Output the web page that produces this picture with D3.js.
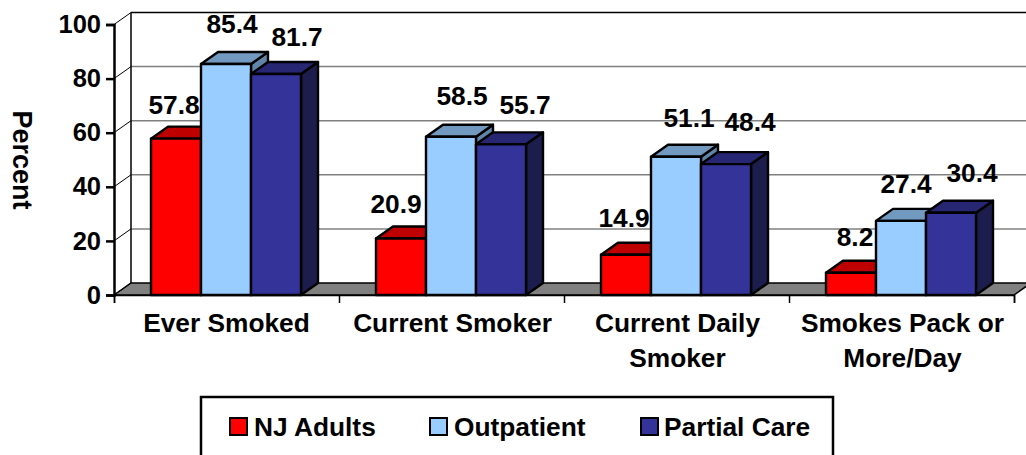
<!DOCTYPE html>
<html><head><meta charset="utf-8"><style>
html,body{margin:0;padding:0;background:#fff;overflow:hidden}
text{font-family:"Liberation Sans",Arial,sans-serif;font-weight:bold;fill:#000}
</style><script src="https://cdn.jsdelivr.net/npm/d3@7"></script></head><body>
<svg id="c" width="1026" height="455"></svg>
<script>
const categories=[["Ever Smoked"],["Current Smoker"],["Current Daily","Smoker"],["Smokes Pack or","More/Day"]];
const series=["NJ Adults","Outpatient","Partial Care"];
const njAdults=[57.8,20.9,14.9,8.2];
const outpatient=[85.4,58.5,51.1,27.4];
const partialCare=[81.7,55.7,48.4,30.4];
const yTicks=[0,20,40,60,80,100];
const values=[njAdults,outpatient,partialCare];

const front=["#FF0000","#99CCFF","#333399"],top_=["#BF0000","#7299BF","#262673"],side=["#8C0000","#6185A8","#1C1C4D"];
const DX=17,DY=-12,BW=50,GAP=37,FS=26.3;
// hand placement of the data labels relative to the bar's centre and top
const labelDx=[[-2,-5,-2,4],[6,11,13,5],[21,24,24,21]];
const labelDy=[[-25,-25,-28,-27],[-31,-32,-30,-28],[-28,-30,-33,-31]];
const svg=d3.select("#c");
const y=d3.scaleLinear().domain([0,100]).range([295,24.5]);
const x=d3.scaleBand().domain(d3.range(categories.length)).range([114,1014]);
const line=(g,a,b,c,d,col,w)=>g.append("line").attr("x1",a).attr("y1",b).attr("x2",c).attr("y2",d).attr("stroke",col).attr("stroke-width",w);

const bg=svg.append("g");
bg.append("polygon").attr("points",[[114,y(0)],[114+DX,y(0)+DY],[1014+DX,y(0)+DY],[1014,y(0)]].join(" ")).attr("fill","#808080").attr("stroke","#000").attr("stroke-width",1.5);
yTicks.forEach(t=>{
  if(t>0) line(bg,114+DX,y(t)+DY,1014+DX,y(t)+DY,t===100?"#000":"#808080",1.5);
  line(bg,114,y(t),114+DX,y(t)+DY,"#000",1);
});
line(bg,114+DX,y(0)+DY,114+DX,y(100)+DY,"#000",1.5);

categories.forEach((c,i)=>{
  series.forEach((s,k)=>{
    const v=values[k][i],x0=x(i)+GAP+k*BW,yt=y(v),yb=y(0);
    const g=svg.append("g").attr("stroke","#000").attr("stroke-width",2.4).attr("stroke-linejoin","round");
    g.append("polygon").attr("points",[[x0+BW,yb],[x0+BW+DX,yb+DY],[x0+BW+DX,yt+DY],[x0+BW,yt]].join(" ")).attr("fill",side[k]);
    g.append("polygon").attr("points",[[x0,yt],[x0+DX,yt+DY],[x0+BW+DX,yt+DY],[x0+BW,yt]].join(" ")).attr("fill",top_[k]);
    g.append("rect").attr("x",x0).attr("y",yt).attr("width",BW).attr("height",yb-yt).attr("fill",front[k]);
  });
});
const ya=svg.append("g").attr("transform","translate(114,0)").call(d3.axisLeft(y).tickValues(yTicks).tickSize(8).tickPadding(5));
ya.selectAll("text").style("font-size","25.5px").style("font-family",'"Liberation Sans"').style("font-weight","bold");
ya.selectAll("line,path").attr("stroke","#000").attr("stroke-width",2.5);
const xa=svg.append("g").attr("transform","translate(0,295)").call(d3.axisBottom(d3.scaleLinear().domain([0,4]).range([114,1014])).tickValues([0,1,2,3,4]).tickSize(8).tickFormat(""));
xa.selectAll("path").attr("stroke","#000").attr("stroke-width",1.5);
xa.selectAll("line").attr("stroke","#000").attr("stroke-width",1.5);

categories.forEach((c,i)=>series.forEach((s,k)=>{
  const v=values[k][i];
  svg.append("text").attr("x",x(i)+GAP+k*BW+BW/2+labelDx[k][i]).attr("y",y(v)+labelDy[k][i]).attr("text-anchor","middle").attr("font-size",FS).text(v.toFixed(1));
}));
categories.forEach((c,i)=>c.forEach((t,j)=>{
  svg.append("text").attr("x",x(i)+x.bandwidth()/2+(i?1:0)).attr("y",332+j*35).attr("text-anchor","middle").attr("font-size",FS).text(t);
}));
svg.append("text").attr("transform","translate(13,160) rotate(90)").attr("text-anchor","middle").attr("font-size",27).text("Percent");
svg.append("rect").attr("x",201).attr("y",397).attr("width",632).attr("height",70).attr("fill","#fff").attr("stroke","#000").attr("stroke-width",2.5);
const lgX=[230,430,641],lgT=[254,454,664];
series.forEach((s,k)=>{
  svg.append("rect").attr("x",lgX[k]).attr("y",418).attr("width",17).attr("height",17).attr("fill",front[k]).attr("stroke","#000").attr("stroke-width",2);
  svg.append("text").attr("x",lgT[k]).attr("y",436).attr("font-size",FS).text(s);
});
</script></body></html>
